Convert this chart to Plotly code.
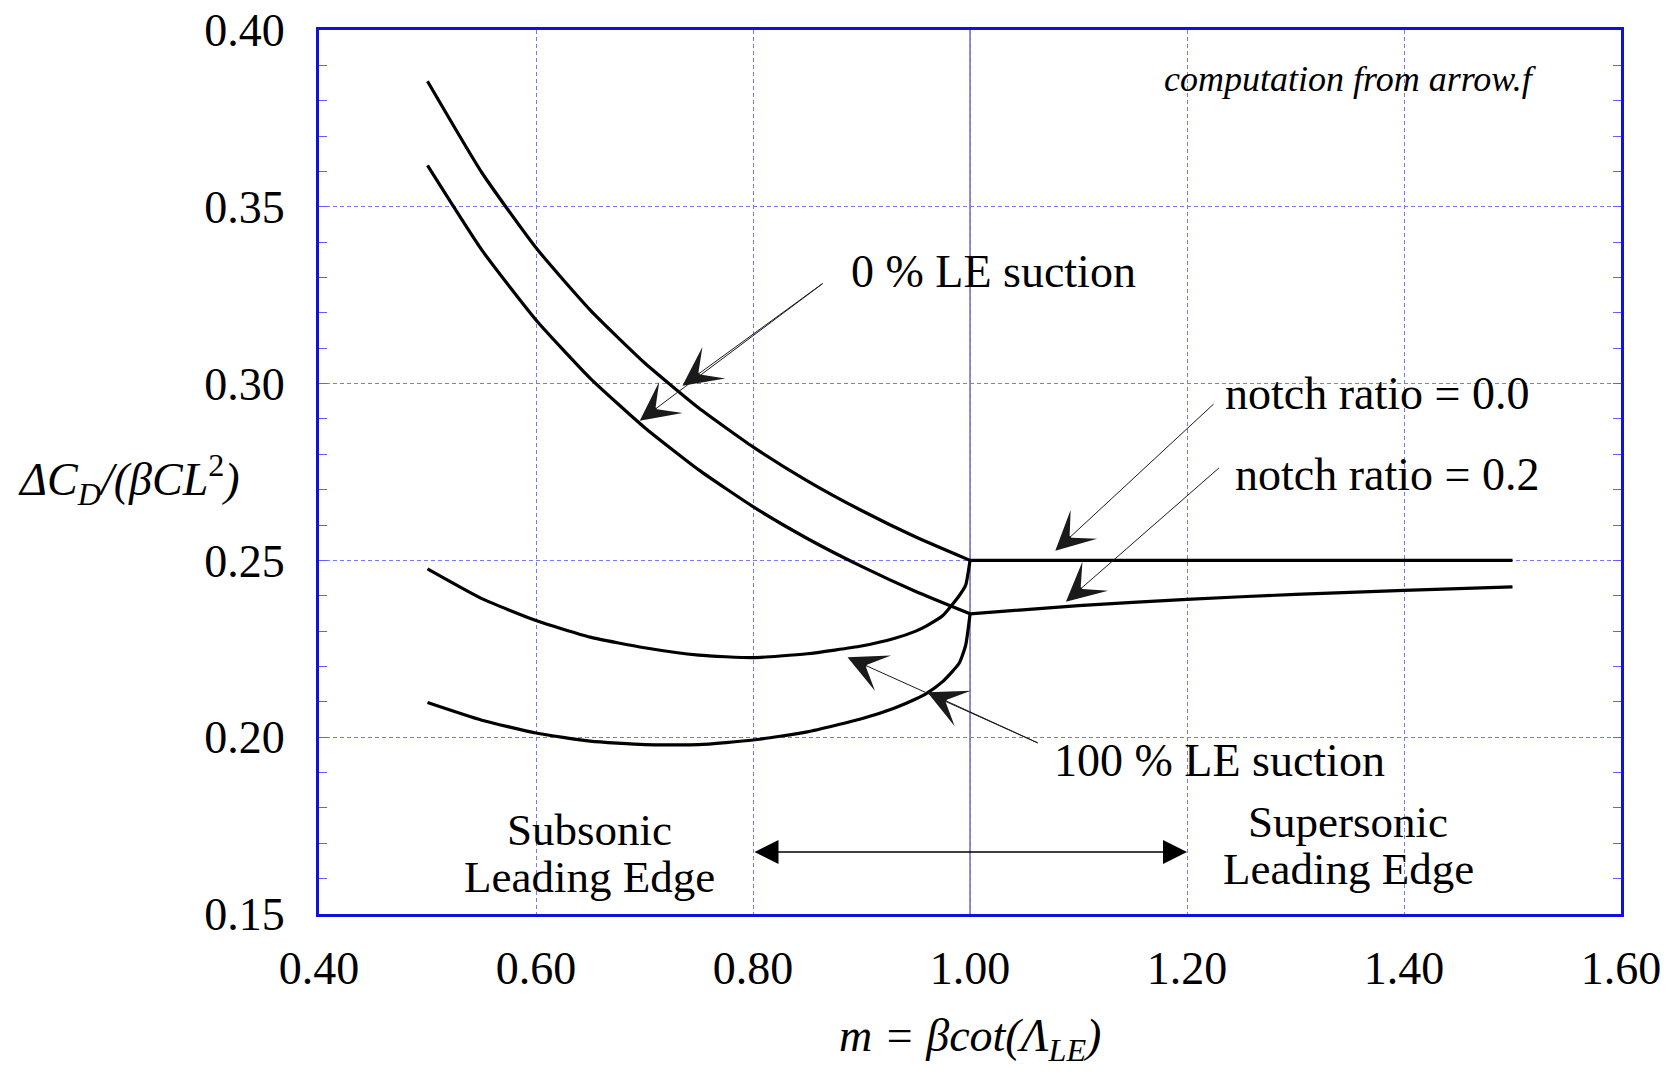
import plotly.graph_objects as go

# ---------------- data ----------------
# 0 % LE suction, notch ratio = 0.0 (subsonic LE part)
m_zero_sub = [0.50, 0.55, 0.60, 0.65, 0.70, 0.75, 0.80, 0.85, 0.90, 0.95, 1.00]
cd_zero_notch00 = [0.3855, 0.3597, 0.3384, 0.3208, 0.3059, 0.2931, 0.2821, 0.2725, 0.2641, 0.2566, 0.2500]
# 0 % LE suction, notch ratio = 0.2 (subsonic LE part)
cd_zero_notch02 = [0.3617, 0.3378, 0.3180, 0.3015, 0.2876, 0.2756, 0.2652, 0.2562, 0.2483, 0.2412, 0.2349]

# supersonic LE part (suction has no effect)
m_super = [1.00, 1.10, 1.20, 1.30, 1.40, 1.50]
cd_super_notch00 = [0.2500, 0.2500, 0.2500, 0.2500, 0.2500, 0.2500]
cd_super_notch02 = [0.2349, 0.2372, 0.2390, 0.2404, 0.2415, 0.2425]

# 100 % LE suction (subsonic LE part)
m_full_sub = [0.50, 0.55, 0.60, 0.65, 0.70, 0.75, 0.80, 0.85, 0.90, 0.93, 0.95, 0.96, 0.975, 0.99, 0.996, 1.00]
cd_full_notch00 = [0.2476, 0.2392, 0.2330, 0.2283, 0.2253, 0.2232, 0.2225, 0.2236, 0.2258, 0.2279,
                   0.2300, 0.2315, 0.2344, 0.2400, 0.2430, 0.2500]
cd_full_notch02 = [0.2098, 0.2048, 0.2012, 0.1989, 0.1979, 0.1979, 0.1992, 0.2015, 0.2052, 0.2082,
                   0.2108, 0.2124, 0.2158, 0.2209, 0.2260, 0.2347]

x_ticks = [0.40, 0.60, 0.80, 1.00, 1.20, 1.40, 1.60]
y_ticks = [0.15, 0.20, 0.25, 0.30, 0.35, 0.40]
sonic_m = 1.0

SERIF = "Liberation Serif, Times New Roman, serif"
BLUE = "#1010e0"
GRID = "#7878ff"

fig = go.Figure()

for xs, ys, shape in [
    (m_zero_sub, cd_zero_notch00, "spline"),
    (m_zero_sub, cd_zero_notch02, "spline"),
    (m_super, cd_super_notch00, "linear"),
    (m_super, cd_super_notch02, "spline"),
    (m_full_sub, cd_full_notch00, "spline"),
    (m_full_sub, cd_full_notch02, "spline"),
]:
    fig.add_trace(go.Scatter(x=xs, y=ys, mode="lines",
                             line=dict(color="black", width=3.2, shape=shape, smoothing=0.5),
                             showlegend=False, hoverinfo="skip"))

# sonic leading-edge line m = 1
fig.add_shape(type="line", xref="x", yref="paper", x0=sonic_m, x1=sonic_m, y0=0, y1=1,
              line=dict(color="#2a2a50", width=1), layer="between")

fig.update_xaxes(range=[0.4, 1.6], tickvals=x_ticks, tickformat=".2f",
                 showgrid=True, gridcolor=GRID, griddash="4px,3px", gridwidth=1,
                 showline=True, linecolor=BLUE, linewidth=3, mirror=True,
                 ticks="", zeroline=False, ticklabelstandoff=12, automargin=False,
                 ticklabeloverflow="allow",
                 tickfont=dict(family=SERIF, size=46, color="black"))
fig.update_yaxes(range=[0.15, 0.40], tickvals=y_ticks, tickformat=".2f",
                 showgrid=True, gridcolor=GRID, griddash="4px,3px", gridwidth=1,
                 showline=True, linecolor=BLUE, linewidth=3, mirror="allticks",
                 ticks="inside", ticklen=8, tickcolor="#6060ff", tickwidth=1,
                 minor=dict(dtick=0.01, ticks="inside", ticklen=8, tickcolor="#6060ff",
                            tickwidth=1, showgrid=False),
                 zeroline=False, ticklabelstandoff=22, automargin=False,
                 ticklabeloverflow="allow",
                 tickfont=dict(family=SERIF, size=46, color="black"))

ann = []
def text(x, y, s, size=46, italic=False):
    ann.append(dict(x=x, y=y, xref="x", yref="y", text=(f"<i>{s}</i>" if italic else s),
                    showarrow=False, xanchor="center", yanchor="middle",
                    font=dict(family=SERIF, size=size, color="black")))

def arrow(x, y, ax, ay, head=3, size=6.5, width=1, color="#1a1a1a"):
    ann.append(dict(x=x, y=y, ax=ax, ay=ay, xref="x", yref="y", axref="x", ayref="y",
                    text="", showarrow=True, arrowhead=head, arrowsize=size,
                    arrowwidth=width, arrowcolor=color))

text(1.0216, 0.3316, "0 % LE suction")
text(1.3751, 0.2973, "notch ratio = 0.0")
text(1.3840, 0.2744, "notch ratio = 0.2")
text(1.2298, 0.1934, "100 % LE suction")
text(0.6494, 0.1738, "Subsonic", size=45)
text(0.6494, 0.1605, "Leading Edge", size=45)
text(1.3486, 0.1759, "Supersonic", size=45)
text(1.3486, 0.1627, "Leading Edge", size=45)
text(1.3506, 0.3861, "computation from arrow.f", size=36, italic=True)

arrow(0.7349, 0.2994, 0.8655, 0.3286)
arrow(0.6956, 0.2895, 0.8655, 0.3286)
arrow(1.0786, 0.2527, 1.2259, 0.2946)
arrow(1.0884, 0.2383, 1.2308, 0.2765)
arrow(0.8871, 0.2226, 1.0638, 0.1982)
arrow(0.9607, 0.2127, 1.0638, 0.1982)

ann.append(dict(x=1.2, y=0.1675, ax=0.8, ay=0.1675, xref="x", yref="y", axref="x", ayref="y",
                text="", showarrow=True, arrowhead=2, arrowside="end+start",
                arrowsize=3.2, arrowwidth=1.5, arrowcolor="black"))

# axis titles
ann.append(dict(x=-0.146, y=0.491, xref="paper", yref="paper", showarrow=False,
                xanchor="center", yanchor="middle",
                text="<i>ΔC</i><sub><i>D</i></sub><i>/(βCL</i><sup>2</sup><i>)</i>",
                font=dict(family=SERIF, size=46, color="black")))
ann.append(dict(x=0.5, y=-0.141, xref="paper", yref="paper", showarrow=False,
                xanchor="center", yanchor="middle",
                text="<i>m = βcot(Λ</i><sub><i>LE</i></sub><i>)</i>",
                font=dict(family=SERIF, size=46, color="black")))

# the page body has an 8px margin, so the figure is shifted; compensate
fig.update_layout(width=1663, height=1066,
                  margin=dict(l=311, r=50, t=22, b=160),
                  paper_bgcolor="white", plot_bgcolor="white",
                  annotations=ann, showlegend=False)

fig.write_html("out.html")
